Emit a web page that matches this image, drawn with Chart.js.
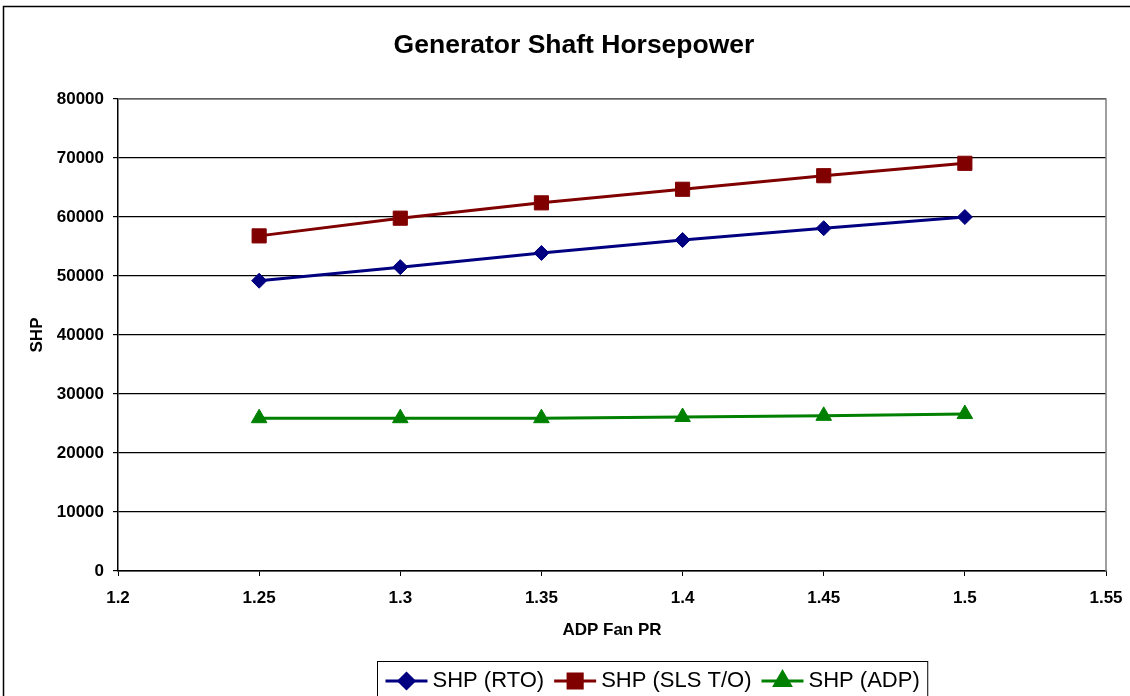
<!DOCTYPE html>
<html>
<head>
<meta charset="utf-8">
<script src="https://cdn.jsdelivr.net/npm/chart.js@4.4.1/dist/chart.umd.min.js"></script>
<style>
  html, body { margin: 0; padding: 0; background: #fff; }
  #wrap { width: 1130px; height: 696px; }
</style>
</head>
<body>
<div id="wrap"><canvas id="shpChart" width="1130" height="696"></canvas></div>
<script>
var fanPR = [1.25, 1.3, 1.35, 1.4, 1.45, 1.5];
var shpRTO = [49200, 51500, 53900, 56100, 58100, 60000];
var shpSLS = [56800, 59800, 62400, 64700, 67000, 69100];
var shpADP = [25900, 25900, 25900, 26100, 26300, 26600];

var FONT = "'Liberation Sans', Arial, sans-serif";
var TITLE = 'Generator Shaft Horsepower';

function pts(ys) {
  return fanPR.map(function (x, i) { return { x: x, y: ys[i] }; });
}

// frame round the whole chart, title, grey plot border (excel look)
var framePlugin = {
  id: 'frame',
  beforeDraw: function (chart) {
    var c = chart.ctx;
    c.save();
    c.fillStyle = '#fff';
    c.fillRect(0, 0, chart.width, chart.height);
    c.strokeStyle = '#000';
    c.lineWidth = 1.5;
    c.beginPath();
    c.moveTo(3.5, chart.height + 5);
    c.lineTo(3.5, 6.5);
    c.lineTo(chart.width + 5, 6.5);
    c.stroke();
    c.fillStyle = '#000';
    c.font = 'bold 26.5px ' + FONT;
    c.textAlign = 'center';
    c.textBaseline = 'alphabetic';
    c.fillText(TITLE, 574, 53);
    c.restore();
  },
  afterDatasetsDraw: function (chart) {
    var a = chart.chartArea, c = chart.ctx;
    c.save();
    c.strokeStyle = '#808080';
    c.lineWidth = 1.5;
    c.beginPath();
    c.moveTo(a.left, a.top);
    c.lineTo(a.right, a.top);
    c.lineTo(a.right, a.bottom);
    c.stroke();
    c.restore();
  }
};

// legend with line + marker, boxed like excel
var legendPlugin = {
  id: 'boxLegend',
  afterDraw: function (chart) {
    var c = chart.ctx;
    var sets = chart.data.datasets;
    c.save();
    c.font = '22px ' + FONT;
    var lineW = 42, gap = 5, itemGap = 10, pad = 8;
    var total = pad * 2 - itemGap;
    sets.forEach(function (d) { total += lineW + gap + c.measureText(d.label).width + itemGap; });
    var left = Math.round(652.5 - total / 2) + 0.5;
    var top = 661.5, cy = 681;
    c.strokeStyle = '#000';
    c.lineWidth = 1;
    c.strokeRect(left, top, total, 60);
    var x = left + pad;
    sets.forEach(function (d) {
      c.strokeStyle = d.borderColor;
      c.lineWidth = 3;
      c.beginPath();
      c.moveTo(x, cy);
      c.lineTo(x + lineW, cy);
      c.stroke();
      c.fillStyle = d.pointBackgroundColor;
      c.strokeStyle = d.pointBorderColor;
      Chart.helpers.drawPoint(c, { pointStyle: d.pointStyle, radius: d.pointRadius, borderWidth: 1, rotation: 0 }, x + lineW / 2, cy);
      x += lineW + gap;
      c.fillStyle = '#000';
      c.textBaseline = 'middle';
      c.textAlign = 'left';
      c.fillText(d.label, x, cy);
      x += c.measureText(d.label).width + itemGap;
    });
    c.restore();
  }
};

function series(label, ys, color, style, r) {
  return {
    label: label,
    data: pts(ys),
    borderColor: color,
    backgroundColor: color,
    pointBackgroundColor: color,
    pointBorderColor: color,
    borderWidth: 3,
    pointStyle: style,
    pointRadius: r,
    pointHoverRadius: r,
    pointBorderWidth: 1,
    tension: 0
  };
}

var ctx = document.getElementById('shpChart').getContext('2d');
var shpChart = new Chart(ctx, {
  type: 'line',
  data: {
    datasets: [
      series('SHP (RTO)', shpRTO, '#000080', 'rectRot', 7.5),
      series('SHP (SLS T/O)', shpSLS, '#800000', 'rect', 10),
      series('SHP (ADP)', shpADP, '#008000', 'triangle', 9)
    ]
  },
  options: {
    responsive: false,
    animation: false,
    layout: { padding: { left: 23, right: 24, top: 99, bottom: 51 } },
    plugins: {
      legend: { display: false },
      tooltip: { enabled: false },
      title: { display: false }
    },
    scales: {
      x: {
        type: 'linear',
        min: 1.2,
        max: 1.55,
        ticks: {
          stepSize: 0.05,
          color: '#000',
          padding: 12,
          font: { family: FONT, size: 17, weight: 'bold' },
          callback: function (v) { return String(parseFloat(v.toFixed(2))); }
        },
        grid: { drawOnChartArea: false, color: '#000', tickLength: 5, tickColor: '#000' },
        border: { color: '#000', width: 1.5 },
        title: {
          display: true,
          text: 'ADP Fan PR',
          color: '#000',
          font: { family: FONT, size: 17, weight: 'bold' },
          padding: { top: 4, bottom: 4 }
        },
        afterFit: function (s) { s.height = 74; s.paddingLeft = 0; s.paddingRight = 0; }
      },
      y: {
        min: 0,
        max: 80000,
        ticks: {
          stepSize: 10000,
          color: '#000',
          padding: 9,
          font: { family: FONT, size: 17, weight: 'bold' },
          callback: function (v) { return String(v); }
        },
        grid: { color: '#000', lineWidth: 1.2, tickLength: 5, tickColor: '#000' },
        border: { color: '#000', width: 1.5 },
        title: {
          display: true,
          text: 'SHP',
          color: '#000',
          font: { family: FONT, size: 17, weight: 'bold' },
          padding: { top: 4, bottom: 4 }
        },
        afterFit: function (s) { s.width = 95; s.paddingTop = 0; s.paddingBottom = 0; }
      }
    }
  },
  plugins: [framePlugin, legendPlugin]
});
</script>
</body>
</html>
